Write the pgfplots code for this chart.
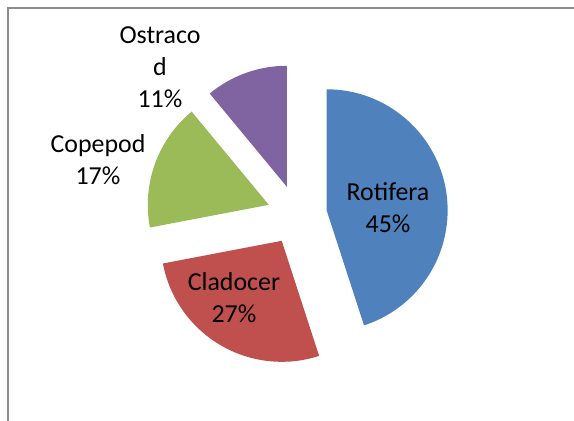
\documentclass[border=0pt]{standalone}
\usepackage{pgfplots}
\pgfplotsset{compat=1.18}
\usepackage{fontspec}
\setmainfont{Carlito}
\definecolor{cRot}{HTML}{4F81BD}
\definecolor{cCla}{HTML}{C0504D}
\definecolor{cCop}{HTML}{9BBB59}
\definecolor{cOst}{HTML}{8064A2}
\definecolor{frame}{HTML}{8C8C8C}
% pie centre (297,206), explode distance 30, radius 121 (axis units = bp)
\newcommand\slice[3]{% colour, cumulative percent before, percent
  \pgfmathsetmacro\pa{90-3.6*(#2+#3)}%
  \pgfmathsetmacro\pb{90-3.6*(#2)}%
  \pgfmathsetmacro\pmid{90-3.6*(#2+#3/2)}%
  \pgfmathsetmacro\cx{297+30*cos(\pmid)}%
  \pgfmathsetmacro\cy{206+30*sin(\pmid)}%
  \edef\temp{\noexpand\addplot[fill=#1, draw=none] coordinates {(\cx,\cy)}
    -- ++(\pb:121bp) arc[start angle=\pb, end angle=\pa, radius=121bp] -- cycle;}%
  \temp
}
\begin{document}
\begin{tikzpicture}
\useasboundingbox (0,0) rectangle (574bp,421bp);
\begin{axis}[
  at={(0,0)}, anchor=south west,
  scale only axis, width=574bp, height=421bp,
  xmin=0, xmax=574, ymin=0, ymax=421,
  enlargelimits=false, hide axis, clip=false,
]
\addplot[frame, line width=2bp] coordinates {(8,0) (8,412.5) (574,412.5)};
\slice{cRot}{0}{45}
\slice{cCla}{45}{27}
\slice{cCop}{72}{17}
\slice{cOst}{89}{11}
\begin{scope}[every node/.style={font=\fontsize{26}{32}\selectfont, align=center, text=black}]
\node at (axis cs:388,213) {Rotifera\\45\%};
\node at (axis cs:234,123) {Cladocer\\27\%};
\node at (axis cs:98,261) {Copepod\\17\%};
\node at (axis cs:160,354) {Ostraco\\d\\11\%};
\end{scope}
\end{axis}
\end{tikzpicture}
\end{document}
